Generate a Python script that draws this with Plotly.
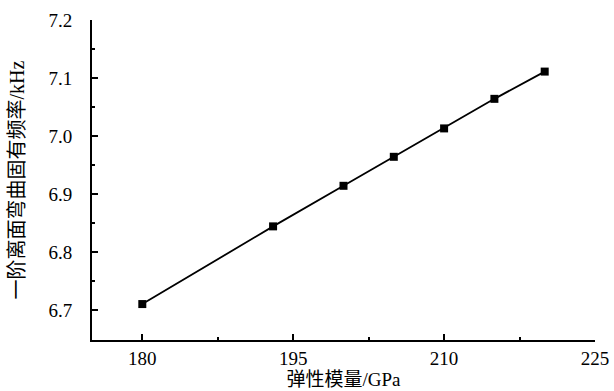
import plotly.graph_objects as go

modulus_gpa = [180, 193, 200, 205, 210, 215, 220]
frequency_khz = [6.710, 6.844, 6.914, 6.964, 7.013, 7.064, 7.111]
x_ticks = [180, 195, 210, 225]
y_ticks = [6.7, 6.8, 6.9, 7.0, 7.1, 7.2]
y_tick_labels = ["6.7", "6.8", "6.9", "7.0", "7.1", "7.2"]

font_family = "Liberation Serif, Times New Roman, Noto Sans CJK SC, serif"

fig = go.Figure()
fig.add_trace(go.Scatter(
    x=modulus_gpa, y=frequency_khz, mode="lines+markers",
    line=dict(color="black", width=1.8),
    marker=dict(symbol="square", size=8, color="black"),
    showlegend=False,
))

fig.update_layout(
    width=614, height=391,
    margin=dict(l=92, r=19, t=20, b=51, autoexpand=False),
    paper_bgcolor="white", plot_bgcolor="white",
    font=dict(family=font_family, color="black", size=19),
)
fig.update_xaxes(
    range=[175, 225], tickvals=x_ticks, ticks="inside", ticklen=6, tickwidth=2,
    tickcolor="black", showline=True, linecolor="black", linewidth=2,
    showgrid=False, zeroline=False, automargin=False,
    minor=dict(tickvals=[187.5, 202.5, 217.5], ticks="inside", ticklen=3, tickwidth=1.5, tickcolor="black"),
    title=dict(text="弹性模量/GPa", font=dict(size=19), standoff=0),
    tickfont=dict(size=19), ticklabelstandoff=0,
)
fig.update_yaxes(
    range=[6.648, 7.2], tickvals=y_ticks, ticktext=y_tick_labels, ticks="inside", ticklen=6, tickwidth=2,
    tickcolor="black", showline=True, linecolor="black", linewidth=2,
    showgrid=False, zeroline=False, automargin=False,
    minor=dict(tickvals=[6.75, 6.85, 6.95, 7.05, 7.15], ticks="inside", ticklen=3, tickwidth=1.5, tickcolor="black"),
    title=dict(text="一阶离面弯曲固有频率/kHz", font=dict(size=20), standoff=18),
    tickfont=dict(size=19), ticklabelstandoff=14,
)

fig.write_html(
    "out.html",
    config={"displayModeBar": False},
    post_script="document.body.style.margin='0';document.body.style.padding='0';",
)
